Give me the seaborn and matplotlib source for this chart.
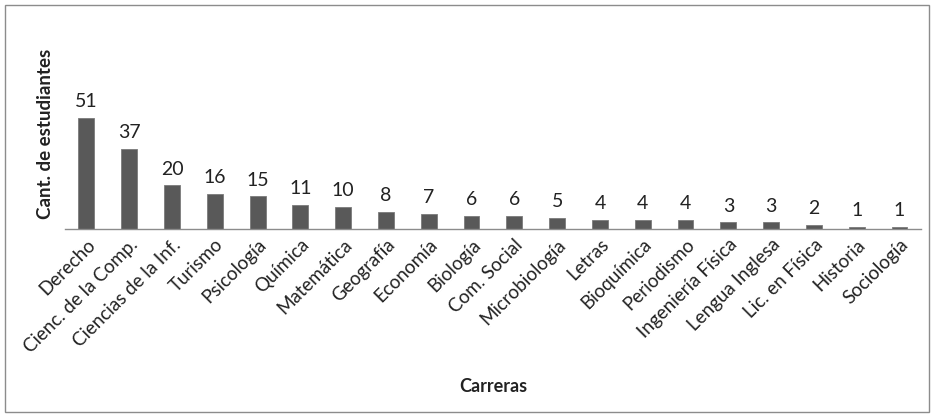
import matplotlib
matplotlib.use("Agg")
import matplotlib.pyplot as plt
import seaborn as sns
import pandas as pd
from matplotlib.patches import Rectangle

carreras = ["Derecho", "Cienc. de la Comp.", "Ciencias de la Inf.", "Turismo", "Psicología",
            "Química", "Matemática", "Geografía", "Economía", "Biología", "Com. Social",
            "Microbiología", "Letras", "Bioquímica", "Periodismo", "Ingeniería Física",
            "Lengua Inglesa", "Lic. en Física", "Historia", "Sociología"]
estudiantes = [51, 37, 20, 16, 15, 11, 10, 8, 7, 6, 6, 5, 4, 4, 4, 3, 3, 2, 1, 1]

df = pd.DataFrame({"Carreras": carreras, "Cant": estudiantes})

sns.set_theme(style="white")
plt.rcParams['font.family'] = ['Lato', 'DejaVu Sans']

fig = plt.figure(figsize=(9.34, 4.17), dpi=100)
ax = fig.add_axes([0.0696, 0.451, 0.9164, 0.357])
sns.barplot(data=df, x="Carreras", y="Cant", color="#595959", width=0.37,
            edgecolor="#7a7a7a", linewidth=0.6, saturation=1, ax=ax)

for i, v in enumerate(estudiantes):
    ax.text(i, v + 3.6, str(v), ha="center", va="bottom", fontsize=14, color="#222222")

ax.set_ylim(0, 68.5)
ax.set_xlim(-0.5, len(carreras) - 0.5)
ax.set_yticks([])
for s in ["top", "right", "left"]:
    ax.spines[s].set_visible(False)
ax.spines["bottom"].set_color("#8c8c8c")
ax.spines["bottom"].set_linewidth(1)
ax.tick_params(axis="x", length=0, pad=5)
ax.set_xticks(range(len(carreras)))
ax.set_xticklabels(carreras, rotation=45, ha="right", rotation_mode="anchor",
                   fontsize=13.5, color="#222222")
ax.set_ylabel("Cant. de estudiantes", fontsize=13.5, fontweight="bold", color="#222222")
ax.yaxis.set_label_coords(-0.013, 0.64)
ax.set_xlabel("Carreras", fontsize=13, fontweight="bold", color="#222222")
ax.xaxis.set_label_coords(0.5, -1.0)

fig.patches.append(Rectangle((5/934, 5/417), 924/934, 407/417, transform=fig.transFigure,
                             fill=False, edgecolor="#8c8c8c", linewidth=1))

fig.savefig("out.png", dpi=100)
